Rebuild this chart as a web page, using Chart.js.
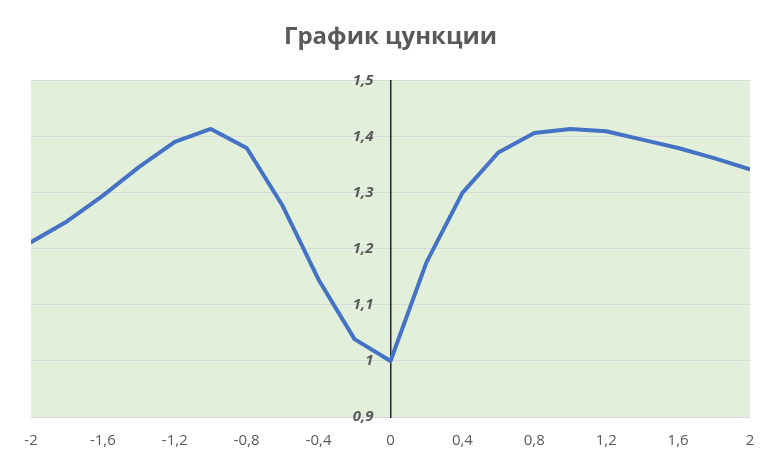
<!DOCTYPE html>
<html>
<head>
<meta charset="utf-8">
<script src="https://cdn.jsdelivr.net/npm/chart.js@4/dist/chart.umd.min.js"></script>
<style>
  html, body { margin: 0; padding: 0; background: #ffffff; }
  #wrap { width: 771px; height: 467px; position: relative; }
</style>
</head>
<body>
<div id="wrap"><canvas id="chart"></canvas></div>
<script>
// Function samples, step 0.2 on [-2, 2]
const xValues = [-2, -1.8, -1.6, -1.4, -1.2, -1, -0.8, -0.6, -0.4, -0.2, 0,
                 0.2, 0.4, 0.6, 0.8, 1, 1.2, 1.4, 1.6, 1.8, 2];
const yValues = [1.212, 1.249, 1.295, 1.346, 1.391, 1.414, 1.380, 1.277, 1.145, 1.039, 1.000,
                 1.176, 1.300, 1.372, 1.407, 1.414, 1.410, 1.395, 1.380, 1.362, 1.342];
const titleText = 'График цункции';

const points = xValues.map((x, i) => ({ x: x, y: yValues[i] }));

const fmt = v => String(Math.round(v * 10) / 10).replace('.', ',');

// Fill the plotting area with a pale green before the grid is drawn
const plotBackground = {
  id: 'plotBackground',
  beforeDraw(chart) {
    const { ctx, chartArea: a } = chart;
    ctx.save();
    ctx.fillStyle = '#e2efda';
    ctx.fillRect(a.left, a.top, a.right - a.left, a.bottom - a.top);
    ctx.restore();
  }
};

// A y axis pinned to x = 0 ignores ticks.padding, so push its labels left
const LABEL_GAP = 17;
const yLabelGap = {
  id: 'yLabelGap',
  beforeDraw(chart) {
    const items = chart.scales.y.getLabelItems();
    items.forEach(it => {
      if (!it._shifted) {
        it.options.translation[0] -= LABEL_GAP;
        it._shifted = true;
      }
    });
  }
};

new Chart(document.getElementById('chart'), {
  type: 'line',
  data: {
    datasets: [{
      data: points,
      borderColor: '#4472c4',
      borderWidth: 4,
      pointRadius: 0,
      tension: 0,
      borderJoinStyle: 'round',
      borderCapStyle: 'round',
      fill: false
    }]
  },
  options: {
    responsive: true,
    maintainAspectRatio: false,
    animation: false,
    layout: { padding: { left: 31, right: 21, top: 0, bottom: 0 } },
    plugins: {
      legend: { display: false },
      tooltip: { enabled: false },
      title: {
        display: true,
        text: titleText,
        color: '#595959',
        font: { family: 'Open Sans', size: 24, weight: 'bold' },
        padding: { top: 23, bottom: 29 }
      }
    },
    scales: {
      x: {
        type: 'linear',
        min: -2,
        max: 2,
        grid: { display: false, drawTicks: false },
        border: { display: false },
        ticks: {
          stepSize: 0.4,
          color: '#595959',
          font: { family: 'Open Sans', size: 15 },
          padding: 15,
          maxRotation: 0,
          callback: v => fmt(v)
        },
        afterFit(scale) { scale.height = 50; }
      },
      y: {
        type: 'linear',
        position: { x: 0 },
        min: 0.9,
        max: 1.5,
        grid: { color: '#d9d9d9', lineWidth: 1, drawTicks: false },
        border: { display: true, color: '#262626', width: 1.5 },
        ticks: {
          stepSize: 0.1,
          color: '#595959',
          font: { family: 'Open Sans', size: 15, style: 'italic', weight: 'bold' },
          callback: v => fmt(v)
        }
      }
    }
  },
  plugins: [plotBackground, yLabelGap]
});
</script>
</body>
</html>
